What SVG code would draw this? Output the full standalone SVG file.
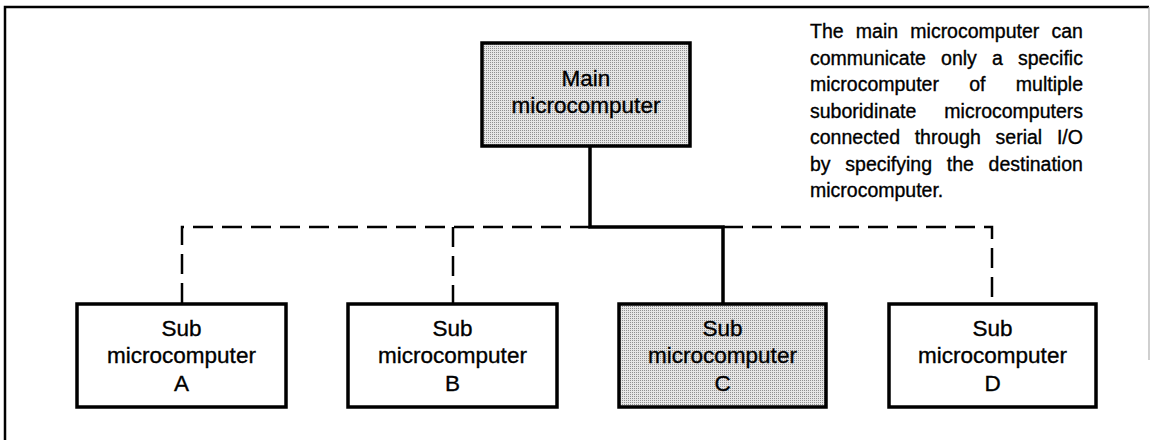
<svg xmlns="http://www.w3.org/2000/svg" width="1151" height="440" viewBox="0 0 1151 440">
<defs>
<pattern id="stipple" width="2" height="2" patternUnits="userSpaceOnUse">
<rect width="2" height="2" fill="#e6e6e6"/>
<rect width="1" height="1" fill="#909090"/>
</pattern>
<style>
.box{fill:#fff;stroke:#000;stroke-width:3.5}
.shaded{fill:url(#stipple);stroke:#000;stroke-width:3.5}
.lbl{font-family:"Liberation Sans",Arial,sans-serif;font-size:22.5px;fill:#000;stroke:#000;stroke-width:0.35;text-anchor:middle}
.para{font-family:"Liberation Sans",Arial,sans-serif;font-size:19.5px;fill:#000;stroke:#000;stroke-width:0.35}
.solid{fill:none;stroke:#000;stroke-width:3.5}
.dash{fill:none;stroke:#000;stroke-width:2.5;stroke-dasharray:20 9}
</style>
</defs>
<rect width="1151" height="440" fill="#fff"/>
<g id="frame">
<path d="M5,440 V7 H1149" fill="none" stroke="#000" stroke-width="2.5"/>
<path d="M1149,7 V360" fill="none" stroke="#b0b0b0" stroke-width="1.2"/>
</g>
<g id="connectors">
<path class="dash" d="M590,227 H182 V304"/>
<path class="dash" d="M453,227 V304"/>
<path class="dash" d="M723,227 H992 V304"/>
<path class="solid" d="M590,146 V227 H723 V304"/>
</g>
<g id="main">
<rect class="shaded" x="482" y="43" width="208" height="103"/>
<text class="lbl" x="586" y="86">Main</text>
<text class="lbl" x="586" y="113">microcomputer</text>
</g>
<g id="subA">
<rect class="box" x="77" y="304" width="209" height="103"/>
<text class="lbl" x="181.5" y="336">Sub</text>
<text class="lbl" x="181.5" y="363">microcomputer</text>
<text class="lbl" x="181.5" y="391">A</text>
</g>
<g id="subB">
<rect class="box" x="348" y="304" width="209" height="103"/>
<text class="lbl" x="452.5" y="336">Sub</text>
<text class="lbl" x="452.5" y="363">microcomputer</text>
<text class="lbl" x="452.5" y="391">B</text>
</g>
<g id="subC">
<rect class="shaded" x="619" y="304" width="207" height="103"/>
<text class="lbl" x="722.5" y="336">Sub</text>
<text class="lbl" x="722.5" y="363">microcomputer</text>
<text class="lbl" x="722.5" y="391">C</text>
</g>
<g id="subD">
<rect class="box" x="889" y="304" width="207" height="103"/>
<text class="lbl" x="992.5" y="336">Sub</text>
<text class="lbl" x="992.5" y="363">microcomputer</text>
<text class="lbl" x="992.5" y="391">D</text>
</g>
<g id="note">
<text class="para" x="810" y="38" word-spacing="6.8">The main microcomputer can</text>
<text class="para" x="810" y="64.5" word-spacing="9.7">communicate only a specific</text>
<text class="para" x="810" y="91" word-spacing="24.9">microcomputer of multiple</text>
<text class="para" x="810" y="117.5" word-spacing="22.7">suboridinate microcomputers</text>
<text class="para" x="810" y="144" word-spacing="9.3">connected through serial I/O</text>
<text class="para" x="810" y="170.5" word-spacing="9.3">by specifying the destination</text>
<text class="para" x="810" y="197">microcomputer.</text>
</g>
</svg>
